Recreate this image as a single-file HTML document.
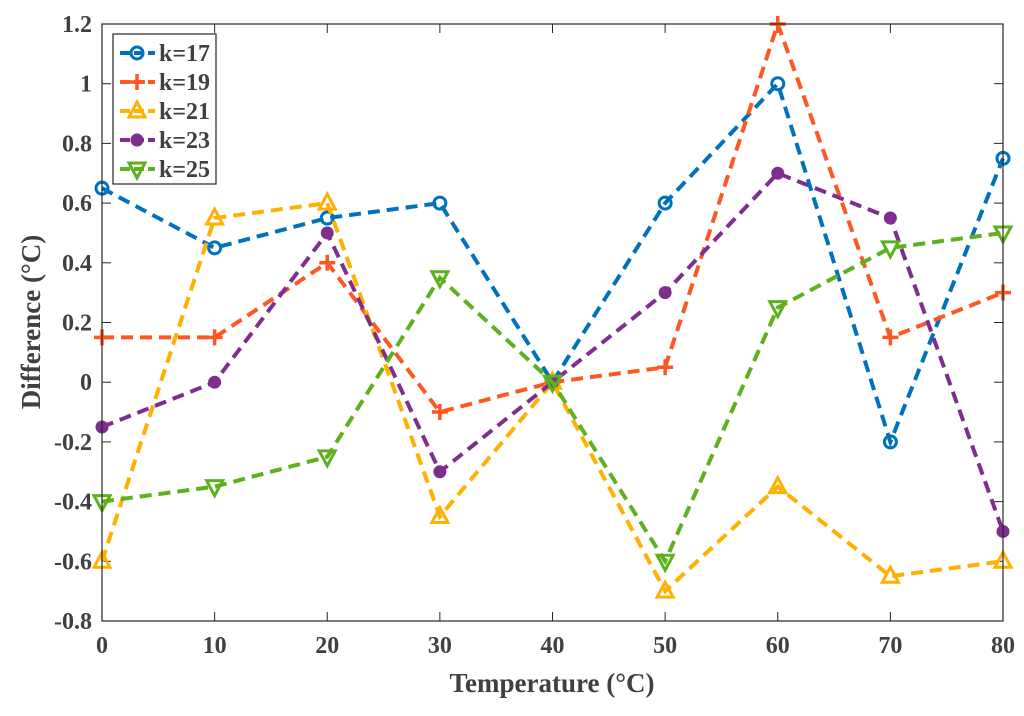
<!DOCTYPE html>
<html><head><meta charset="utf-8"><style>
body{margin:0;background:#fff}
svg text{font-family:"Liberation Serif",serif;font-weight:bold;fill:#404040}
</style></head><body>
<svg id="chart" width="1024" height="711" xmlns="http://www.w3.org/2000/svg">
<rect width="1024" height="711" fill="#fff"/>
<g id="grid"></g>
<g id="series"></g>
<rect x="102" y="24" width="901" height="597" fill="none" stroke="#262626" stroke-width="1.2"/>
<text x="552" y="692" font-size="27" text-anchor="middle">Temperature (°C)</text>
<text transform="translate(40,322) rotate(-90)" font-size="27" text-anchor="middle">Difference (°C)</text>
<g id="legend"></g>
</svg>
<script>
const xCats=[0,10,20,30,40,50,60,70,80];
const xTicks=[0,10,20,30,40,50,60,70,80];
const yTicks=[-0.8,-0.6,-0.4,-0.2,0,0.2,0.4,0.6,0.8,1,1.2];
const seriesNames=["k=17","k=19","k=21","k=23","k=25"];
const k17=[0.65,0.45,0.55,0.6,0,0.6,1.0,-0.2,0.75];
const k19=[0.15,0.15,0.4,-0.1,0,0.05,1.2,0.15,0.3];
const k21=[-0.6,0.55,0.6,-0.45,0,-0.7,-0.35,-0.65,-0.6];
const k23=[-0.15,0,0.5,-0.3,0,0.3,0.7,0.55,-0.5];
const k25=[-0.4,-0.35,-0.25,0.35,0,-0.6,0.25,0.45,0.5];
const allSeries=[k17,k19,k21,k23,k25];
const colors=["#0072BD","#FF5722","#FFB000","#7E2F8E","#5DB11E"];
const markers=["circle","plus","tri-up","dot","tri-down"];
const NS="http://www.w3.org/2000/svg";
const X0=102,X1=1003,Y0=621,Y1=24;
const xs=v=>X0+(v-0)/(80-0)*(X1-X0);
const ys=v=>Y0-(v+0.8)/2.0*(Y0-Y1);
function mk(t,a,p){const e=document.createElementNS(NS,t);for(const k in a)e.setAttribute(k,a[k]);p.appendChild(e);return e;}
const grid=document.getElementById('grid');
xTicks.forEach(v=>{
 const x=xs(v);
 const l=mk('line',{x1:x,x2:x,y1:Y0,y2:Y0-9,stroke:'#262626'},grid);
 
 
 mk('line',{x1:x,x2:x,y1:Y1,y2:Y1+9,stroke:'#262626'},grid);
 const t=mk('text',{x:x,y:Y0+32,'font-size':24,'text-anchor':'middle'},grid);
 t.textContent=v;
 
 
});
yTicks.forEach(v=>{
 const y=ys(v);
 mk('line',{x1:X0,x2:X0+9,y1:y,y2:y,stroke:'#262626'},grid);
 mk('line',{x1:X1,x2:X1-9,y1:y,y2:y,stroke:'#262626'},grid);
 const t=mk('text',{x:X0-10,y:y+8,'font-size':24,'text-anchor':'end'},grid);
 t.textContent=String(Math.round(v*10)/10);
 
 
});
function marker(type,x,y,c,p){
 let e;
 if(type==='circle')e=mk('circle',{cx:x,cy:y,r:6,fill:'none',stroke:c,'stroke-width':3},p);
 else if(type==='dot')e=mk('circle',{cx:x,cy:y,r:6,fill:c,stroke:c,'stroke-width':1},p);
 else if(type==='plus')e=mk('path',{d:`M${x-8} ${y}H${x+8}M${x} ${y-8}V${y+8}`,stroke:c,'stroke-width':3.5},p);
 else if(type==='tri-up')e=mk('path',{d:`M${x} ${y-9}L${x+8} ${y+6}L${x-8} ${y+6}Z`,fill:'none',stroke:c,'stroke-width':3},p);
 else e=mk('path',{d:`M${x} ${y+9}L${x+8} ${y-6}L${x-8} ${y-6}Z`,fill:'none',stroke:c,'stroke-width':3},p);
 return e;
}
const sg=document.getElementById('series');
allSeries.forEach((d,i)=>{
 const g=mk('g',{},sg);
 
 
 const pts=d.map((v,j)=>xs(xCats[j])+','+ys(v)).join(' ');
 mk('polyline',{points:pts,fill:'none',stroke:colors[i],'stroke-width':4,'stroke-dasharray':'12,7'},g);
 d.forEach((v,j)=>{
  const m=marker(markers[i],xs(xCats[j]),ys(v),colors[i],g);
  
  
 });
});
const lg=document.getElementById('legend');
mk('rect',{x:113,y:34,width:103,height:150,fill:'#fff',stroke:'#262626','stroke-width':1.2},lg);
seriesNames.forEach((n,i)=>{
 const y=53+i*29;
 const g=mk('g',{},lg);
 
 
 mk('line',{x1:120,x2:155,y1:y,y2:y,stroke:colors[i],'stroke-width':4,'stroke-dasharray':'10,4'},g);
 marker(markers[i],137,y,colors[i],g);
 const t=mk('text',{x:159,y:y+8,'font-size':24,fill:'#000'},g);
 t.textContent=n;
});
</script>
</body></html>
